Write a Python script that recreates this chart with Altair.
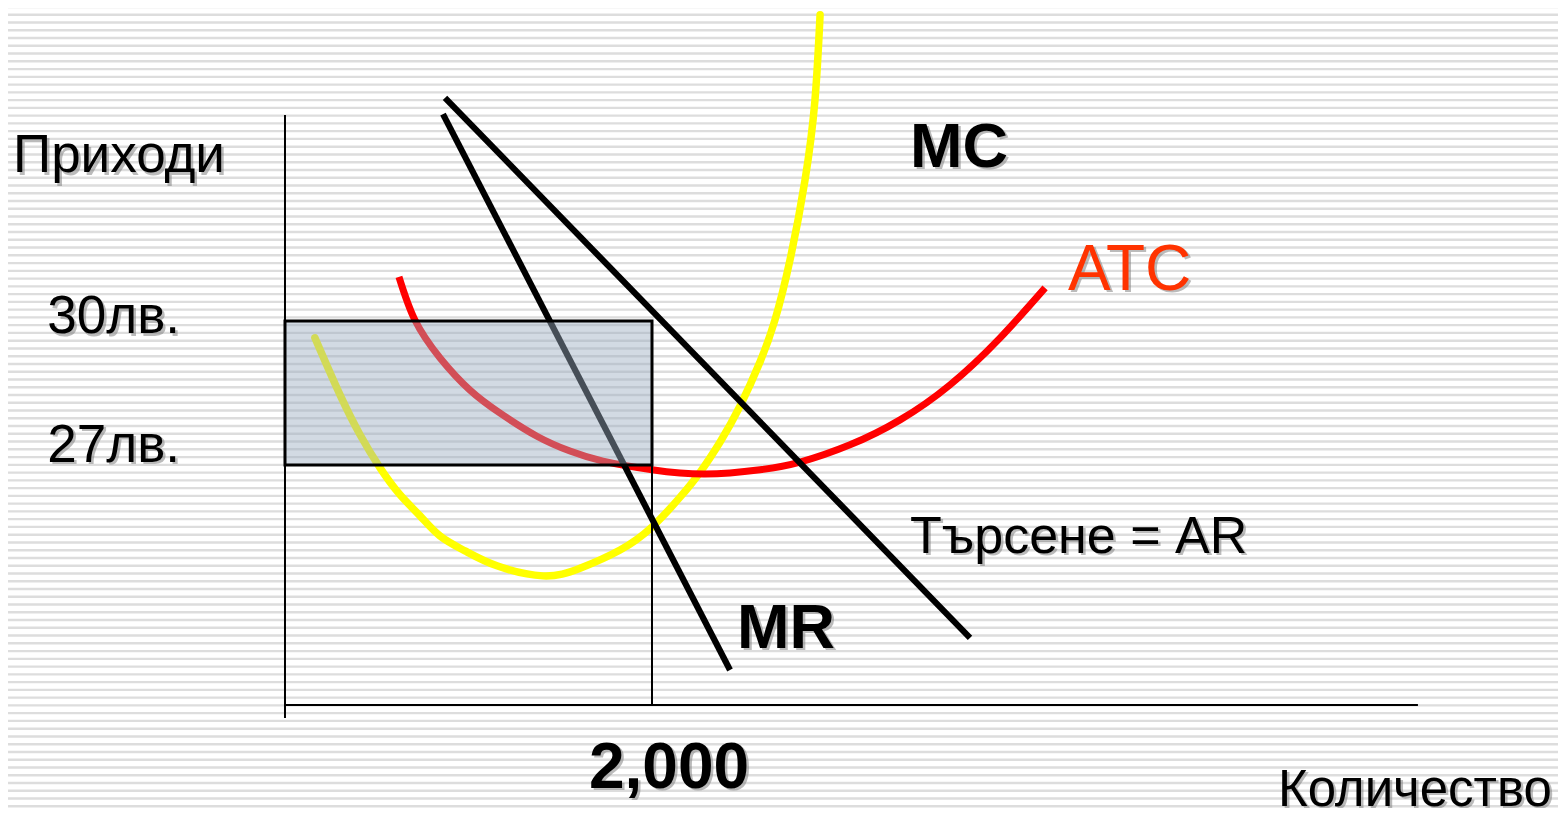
import altair as alt
import pandas as pd

# ---------------- data (quantity, price in лв.) ----------------
mc_q = [163, 300, 409, 518, 627, 736, 845, 981, 1155, 1406, 1608, 1826, 2000, 2153, 2262, 2371, 2480, 2589, 2670, 2752, 2834, 2888, 2916]
mc_p = [29.65, 28.46, 27.63, 26.94, 26.38, 25.94, 25.52, 25.21, 24.90, 24.69, 24.85, 25.23, 25.71, 26.33, 26.85, 27.48, 28.23, 29.15, 30.02, 31.27, 32.94, 34.60, 36.38]

atc_q = [621, 708, 845, 1008, 1172, 1373, 1553, 1733, 2000, 2289, 2589, 2807, 3079, 3352, 3624, 3897, 4142]
atc_p = [30.92, 30.02, 29.23, 28.56, 28.08, 27.60, 27.29, 27.08, 26.90, 26.81, 26.90, 27.06, 27.42, 27.94, 28.67, 29.65, 30.69]

demand_q = [872, 3733]
demand_p = [34.65, 23.40]

mr_q = [861, 2425]
mr_p = [34.31, 22.73]

q_star = 2000          # profit-maximising quantity
price_star = 30        # price
atc_star = 27          # average total cost at q*
p_axis = 22            # price where the horizontal axis sits
q_axis_end = 6174
p_axis_top = 34.29
p_axis_bottom = 21.73

tick_labels = ["30лв.", "27лв."]
tick_values = [price_star, atc_star]

# ---------------- scales / layout ----------------
W, H = 1550, 800
X_DOMAIN = [-1509.5, 6937.3]
Y_DOMAIN = [19.854, 36.521]
FONT = "Liberation Sans"

xs = alt.Scale(domain=X_DOMAIN, nice=False, zero=False)
ys = alt.Scale(domain=Y_DOMAIN, nice=False, zero=False)


def X(f):
    return alt.X(f, type="quantitative", scale=xs, axis=None)


def Y(f):
    return alt.Y(f, type="quantitative", scale=ys, axis=None)


layers = []

# background stripes (decorative pattern)
px_per_p = H / (Y_DOMAIN[1] - Y_DOMAIN[0])
stripes = (
    alt.Chart(alt.sequence(0, 106, as_="i"))
    .transform_calculate(sp=f"{Y_DOMAIN[1]} - (-1 + 7.76 * datum.i) / {px_per_p}")
    .mark_rule(color="#dddddd", strokeWidth=2.4)
    .encode(y=Y("sp"), x=alt.value(0), x2=alt.value(W))
)
layers.append(stripes)

mc_df = pd.DataFrame({"q": mc_q, "p": mc_p})
atc_df = pd.DataFrame({"q": atc_q, "p": atc_p})
dem_df = pd.DataFrame({"q": demand_q, "p": demand_p})
mr_df = pd.DataFrame({"q": mr_q, "p": mr_p})

layers.append(
    alt.Chart(mc_df).mark_line(color="#ffff00", strokeWidth=7.5, strokeCap="round", interpolate="natural")
    .encode(x=X("q"), y=Y("p"))
)
layers.append(
    alt.Chart(atc_df).mark_line(color="#ff0000", strokeWidth=7, strokeCap="butt", interpolate="natural")
    .encode(x=X("q"), y=Y("p"))
)
layers.append(
    alt.Chart(dem_df).mark_line(color="black", strokeWidth=6.2, strokeCap="butt")
    .encode(x=X("q"), y=Y("p"))
)
layers.append(
    alt.Chart(mr_df).mark_line(color="black", strokeWidth=6.2, strokeCap="butt")
    .encode(x=X("q"), y=Y("p"))
)

# profit rectangle
rect_df = pd.DataFrame({"q0": [0], "q1": [q_star], "p0": [atc_star], "p1": [price_star]})
layers.append(
    alt.Chart(rect_df).mark_rect(fill="#9caec0", fillOpacity=0.45, stroke="black", strokeWidth=3)
    .encode(x=X("q0"), x2="q1", y=Y("p0"), y2="p1")
)

# vertical line at q*
vl_df = pd.DataFrame({"q": [q_star], "p0": [p_axis], "p1": [price_star]})
layers.append(
    alt.Chart(vl_df).mark_rule(color="black", strokeWidth=2)
    .encode(x=X("q"), y=Y("p0"), y2="p1")
)

# axes
yax_df = pd.DataFrame({"q": [0], "p0": [p_axis_bottom], "p1": [p_axis_top]})
xax_df = pd.DataFrame({"q0": [0], "q1": [q_axis_end], "p": [p_axis]})
layers.append(
    alt.Chart(yax_df).mark_rule(color="black", strokeWidth=2)
    .encode(x=X("q"), y=Y("p0"), y2="p1")
)
layers.append(
    alt.Chart(xax_df).mark_rule(color="black", strokeWidth=2)
    .encode(x=X("q0"), x2="q1", y=Y("p"))
)


def label(text, q, p, size, color="black", weight="normal", align="left", dx=0, dy=0):
    df = pd.DataFrame({"t": [text], "q": [q], "p": [p]})
    enc = dict(x=X("q"), y=Y("p"), text="t:N")
    kw = dict(font=FONT, fontSize=size, fontWeight=weight, align=align, baseline="alphabetic")
    shadow = alt.Chart(df).mark_text(color="#7a7a7a", opacity=0.5, dx=dx + 2.5, dy=dy + 2.5, **kw).encode(**enc)
    main = alt.Chart(df).mark_text(color=color, dx=dx, dy=dy, **kw).encode(**enc)
    return [shadow, main]


layers += label("Приходи", -1482, 33.10, 53)
layers += label(tick_labels[0], -572, tick_values[0], 53, align="right", dy=12)
layers += label(tick_labels[1], -572, tick_values[1], 53, align="right", dy=-3)
layers += label("2,000", q_star, p_axis, 64, weight="bold", align="center", dx=17, dy=83)
layers += label("Количество", 5411, 19.90, 51)
layers += label("MC", 3406, 33.21, 63, weight="bold")
layers += label("ATC", 4267, 30.65, 64, color="#ff3300")
layers += label("MR", 2463, 23.19, 63, weight="bold")
layers += label("Търсене = AR", 3406, 25.17, 52)

chart = (
    alt.layer(*layers)
    .properties(width=W, height=H, padding=0, autosize="none", background="white")
    .configure_view(strokeWidth=0)
)

chart.save("out.html", embed_options={"renderer": "svg", "actions": False})
